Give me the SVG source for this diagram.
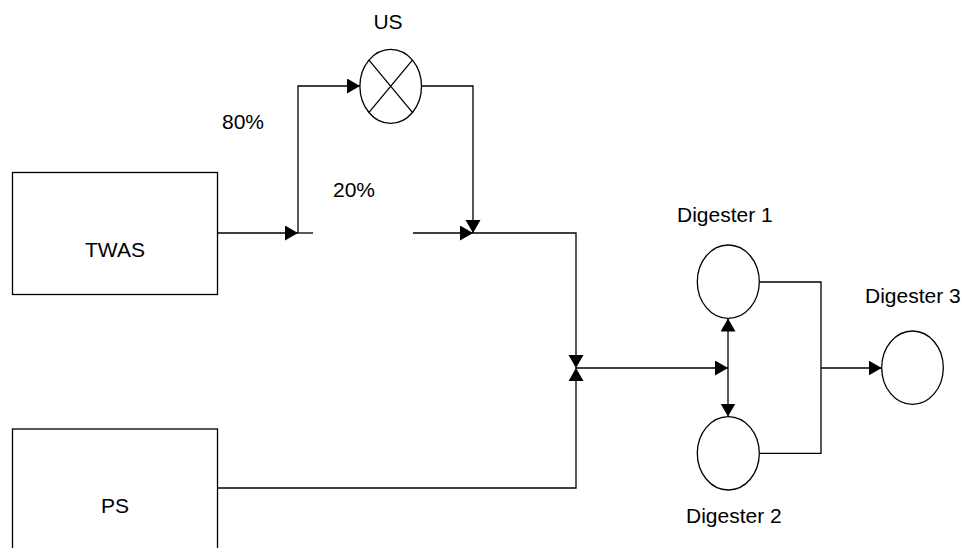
<svg xmlns="http://www.w3.org/2000/svg" width="969" height="548" viewBox="0 0 969 548">
<style>
.box{fill:#fff;stroke:#000;stroke-width:1.3}
.ln{fill:none;stroke:#000;stroke-width:1.3}
.lbl{font-family:"Liberation Sans",Arial,sans-serif;font-size:21px;fill:#000}
</style>
<defs>
<marker id="arr" markerUnits="userSpaceOnUse" markerWidth="14" markerHeight="16" refX="13" refY="7.5" orient="auto">
<path d="M0,0 L13,7.5 L0,15 Z" fill="#000"/>
</marker>
</defs>
<rect width="969" height="548" fill="#fff"/>
<g id="connectors">
<path class="ln" d="M217,233 H298" marker-end="url(#arr)"/>
<path class="ln" d="M298,233 H313"/>
<path class="ln" d="M298,233 V86 H360" marker-end="url(#arr)"/>
<path class="ln" d="M421.7,86 H473 V233" marker-end="url(#arr)"/>
<path class="ln" d="M413,233 H473" marker-end="url(#arr)"/>
<path class="ln" d="M473,233 H576 V368" marker-end="url(#arr)"/>
<path class="ln" d="M217,488 H576 V368" marker-end="url(#arr)"/>
<path class="ln" d="M576,368 H728" marker-end="url(#arr)"/>
<path class="ln" d="M728,368 V318.5" marker-end="url(#arr)"/>
<path class="ln" d="M728,368 V416.5" marker-end="url(#arr)"/>
<path class="ln" d="M759.3,282 H821 V453.3 H759.3"/>
<path class="ln" d="M821,368 H881.7" marker-end="url(#arr)"/>
</g>
<g id="twas">
<rect class="box" x="12.5" y="172.5" width="205" height="122"/>
<text class="lbl" x="115" y="257" text-anchor="middle">TWAS</text>
</g>
<g id="ps">
<rect class="box" x="12.5" y="429" width="205" height="130"/>
<text class="lbl" x="115" y="513" text-anchor="middle">PS</text>
</g>
<g id="us">
<ellipse class="box" cx="390.7" cy="86.3" rx="30.8" ry="37"/>
<path class="ln" d="M369,60.2 L412.4,112.4 M412.4,60.2 L369,112.4"/>
<text class="lbl" x="388" y="29" text-anchor="middle">US</text>
</g>
<g id="split-labels">
<text class="lbl" x="222" y="129">80%</text>
<text class="lbl" x="333" y="197">20%</text>
</g>
<g id="digester1">
<ellipse class="box" cx="728.3" cy="281.7" rx="31" ry="36.7"/>
<text class="lbl" x="677" y="222">Digester 1</text>
</g>
<g id="digester2">
<ellipse class="box" cx="728.3" cy="453.3" rx="31" ry="36.7"/>
<text class="lbl" x="686" y="523">Digester 2</text>
</g>
<g id="digester3">
<ellipse class="box" cx="912.5" cy="367.7" rx="30.8" ry="36.7"/>
<text class="lbl" x="865" y="303">Digester 3</text>
</g>
</svg>
